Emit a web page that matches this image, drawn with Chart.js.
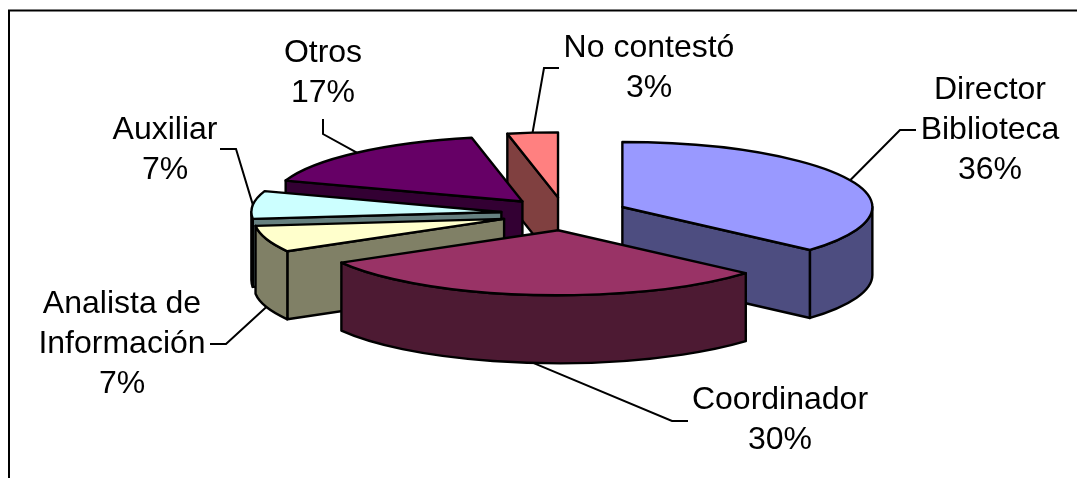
<!DOCTYPE html>
<html><head><meta charset="utf-8">
<style>html,body{margin:0;padding:0;background:#fff}canvas{display:block}</style>
<script src="https://cdn.jsdelivr.net/npm/chart.js@4"></script>
</head><body><canvas id="c" width="1077" height="478"></canvas>
<script>
const categories = [['Director','Biblioteca'],['Coordinador'],['Analista de','Información'],['Auxiliar'],['Otros'],['No contestó']];
const values = [36.49,30.21,6.6,6.9,16.55,3.25];
const topColors = ['#9999ff','#993366','#ffffcc','#ccffff','#660066','#ff8080'];
const sideColors = ['#4d4d80','#4d1a33','#808066','#668080','#330033','#804040'];
const drawOrder = [5,4,3,2,0,1];
const labelCenters = [[990,90],[780,400],[122,304],[165,130],[323,53],[649,48]];
const leaderKnees = [[[900,130],[916,130]],[[672,421],[688,421]],[[226,344],[210,344]],[[236,149],[220,149]],[[323,134],[323,119]],[[544,68],[559,68]]];

const RX = 250, TILT = 0.26, DEPTH = 68, EXPLODE = 63.5;
const CX = 564.5, CY = 213.8;

const pie3d = {
  id:'pie3d',
  afterLayout(chart){
    const vy = CY/TILT;
    const a = chart.chartArea;
    a.left = CX-RX; a.right = CX+RX; a.top = vy-RX; a.bottom = vy+RX;
    a.width = 2*RX; a.height = 2*RX;
  },
  beforeDatasetDraw(){ return false; },
  beforeDatasetsDraw(chart){
    const ctx = chart.ctx, arcs = chart.getDatasetMeta(0).data;
    ctx.save();
    ctx.fillStyle='#fff'; ctx.fillRect(0,0,chart.width,chart.height);
    ctx.strokeStyle='#000'; ctx.lineWidth=2;
    ctx.beginPath(); ctx.moveTo(9,chart.height); ctx.lineTo(9,10.5); ctx.lineTo(chart.width,10.5); ctx.stroke();
    ctx.lineJoin='round';
    for(const i of drawOrder){
      const arc = arcs[i], s = arc.startAngle, e = arc.endAngle, mid=(s+e)/2, R = arc.outerRadius;
      const ox = EXPLODE*Math.cos(mid), oy = EXPLODE*Math.sin(mid);
      const ax = arc.x+ox, ay = (arc.y+oy)*TILT, Ry = R*TILT;
      arc.$apex=[ax,ay]; 
      ctx.lineWidth=2.4; ctx.strokeStyle='#000'; ctx.fillStyle=sideColors[i];
      const radial = a=>{
        const px=ax+R*Math.cos(a), py=ay+Ry*Math.sin(a);
        ctx.beginPath(); ctx.moveTo(ax,ay); ctx.lineTo(px,py); ctx.lineTo(px,py+DEPTH); ctx.lineTo(ax,ay+DEPTH); ctx.closePath();
        ctx.fill(); ctx.stroke();
      };
      if(-Math.cos(s)>1e-6) radial(s);
      if(Math.cos(e)>1e-6) radial(e);
      const a1=Math.max(s,0), a2=Math.min(e,Math.PI);
      if(a2>a1){
        ctx.beginPath();
        ctx.ellipse(ax,ay,R,Ry,0,a1,a2);
        ctx.ellipse(ax,ay+DEPTH,R,Ry,0,a2,a1,true);
        ctx.closePath(); ctx.fill(); ctx.stroke();
      }
      ctx.save();
      ctx.scale(1,TILT);
      ctx.translate(ox,oy);
      arc.draw(ctx);
      ctx.restore();
      ctx.beginPath();
      ctx.moveTo(ax,ay);
      ctx.ellipse(ax,ay,R,Ry,0,s,e);
      ctx.closePath(); ctx.stroke();
    }
    ctx.restore();
  },
  afterDraw(chart){
    const ctx = chart.ctx, arcs = chart.getDatasetMeta(0).data;
    ctx.save();
    ctx.strokeStyle='#000'; ctx.lineWidth=2; ctx.lineJoin='miter';
    arcs.forEach((arc,i)=>{
      const mid=(arc.startAngle+arc.endAngle)/2, R=arc.outerRadius, [ax,ay]=arc.$apex;
      const px=ax+R*Math.cos(mid), py=ay+R*TILT*Math.sin(mid)+(Math.sin(mid)>0.3?DEPTH:0);
      ctx.beginPath(); ctx.moveTo(px,py);
      leaderKnees[i].forEach(p=>ctx.lineTo(p[0],p[1]));
      ctx.stroke();
    });
    ctx.fillStyle='#000'; ctx.font='32px "Liberation Sans"'; ctx.textAlign='center'; ctx.textBaseline='middle';
    categories.forEach((c,i)=>{
      const lines=[...c, Math.round(values[i])+'%'];
      lines.forEach((t,j)=>ctx.fillText(t,labelCenters[i][0],labelCenters[i][1]+j*40));
    });
    ctx.restore();
  }
};

new Chart(document.getElementById('c'),{
  type:'pie',
  data:{labels:categories,datasets:[{data:values,backgroundColor:topColors,borderWidth:0,hoverOffset:0,hoverBorderWidth:0,clip:false}]},
  options:{responsive:false,animation:false,events:[],rotation:0,layout:{padding:0},
    plugins:{legend:{display:false},tooltip:{enabled:false}}},
  plugins:[pie3d]
});
</script></body></html>
